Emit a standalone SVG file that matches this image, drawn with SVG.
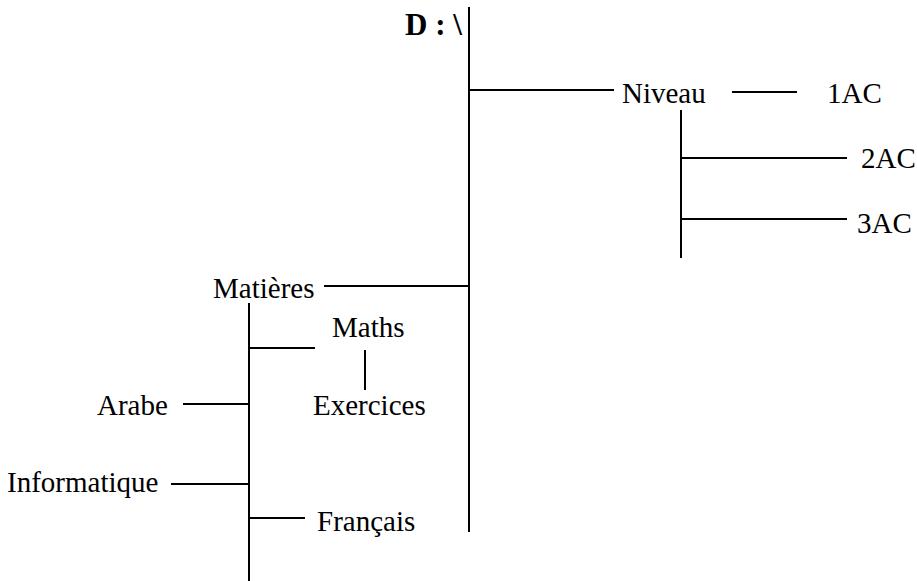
<svg xmlns="http://www.w3.org/2000/svg" width="917" height="581" viewBox="0 0 917 581">
<style>
text{font-family:"Liberation Serif","Times New Roman",serif;font-size:29px;fill:#000}
.b{font-weight:bold;font-size:31px}
line{stroke:#000;stroke-width:2}
</style>
<rect width="917" height="581" fill="#fff"/>
<g id="connectors">
<line x1="469" y1="7" x2="469" y2="532"/>
<line x1="469" y1="90" x2="614" y2="90"/>
<line x1="732" y1="92" x2="797" y2="92"/>
<line x1="681" y1="110" x2="681" y2="258"/>
<line x1="681" y1="158" x2="847" y2="158"/>
<line x1="681" y1="219" x2="847" y2="219"/>
<line x1="324" y1="286" x2="469" y2="286"/>
<line x1="249" y1="303" x2="249" y2="581"/>
<line x1="249" y1="348" x2="315" y2="348"/>
<line x1="365" y1="350" x2="365" y2="390"/>
<line x1="183" y1="404" x2="249" y2="404"/>
<line x1="171" y1="484" x2="249" y2="484"/>
<line x1="249" y1="518" x2="305" y2="518"/>
</g>
<g id="root"><text class="b" x="405" y="35">D : \</text></g>
<g id="niveau"><text x="622" y="103">Niveau</text></g>
<g id="n1ac"><text x="827" y="103">1AC</text></g>
<g id="n2ac"><text x="861" y="168">2AC</text></g>
<g id="n3ac"><text x="857" y="233">3AC</text></g>
<g id="matieres"><text x="213" y="298">Matières</text></g>
<g id="maths"><text x="332" y="337">Maths</text></g>
<g id="exercices"><text x="313" y="415">Exercices</text></g>
<g id="arabe"><text x="97" y="415">Arabe</text></g>
<g id="informatique"><text x="7" y="492">Informatique</text></g>
<g id="francais"><text x="317" y="531">Français</text></g>
</svg>
